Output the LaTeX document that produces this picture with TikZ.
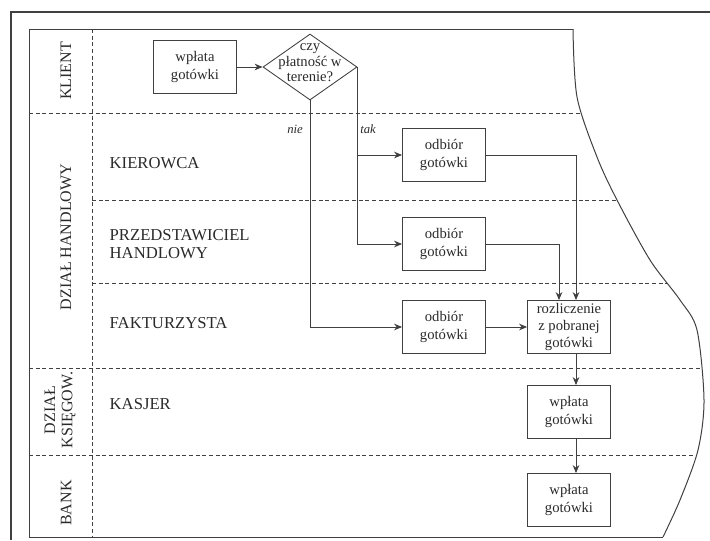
\documentclass[tikz,border=0pt]{standalone}
\usepackage{fontspec}
\setmainfont{Liberation Serif}
\usetikzlibrary{shapes.geometric,calc,arrows.meta}
\definecolor{linegray}{HTML}{404040}
\definecolor{textgray}{HTML}{2A2A2A}

\begin{document}
\begin{tikzpicture}[x=0.75pt,y=-0.75pt, every node/.style={font=\fontsize{11}{13.5}\selectfont, text=textgray},
    box/.style={draw=linegray, line width=0.65pt, rectangle, minimum width=62.25pt, minimum height=39.75pt, align=center, inner sep=1pt},
    decision/.style={draw=linegray, line width=0.65pt, diamond, minimum width=70.5pt, minimum height=49.5pt, inner sep=0pt},
    role/.style={anchor=west, align=left, font=\fontsize{12.5}{13}\selectfont},
    dept/.style={rotate=90, align=center, font=\fontsize{12}{13}\selectfont},
    branch/.style={font=\itshape\fontsize{9.5}{11}\selectfont},
    flow/.style={-{Stealth[length=6pt,width=5pt]}, linegray, line width=0.65pt},
    lane/.style={linegray, dash pattern=on 3pt off 2pt, line width=0.55pt}]
    \useasboundingbox (0,0) rectangle (710,540);
    \draw[linegray, line width=0.8pt] (710,12) -- (11,12) -- (11,540);
    \draw[linegray, line width=0.75pt] (573,29) -- (29,29) -- (29,537) -- (663,537);
    \draw[linegray, line width=0.75pt] plot[smooth, tension=0.5] coordinates {(573,29) (577,97) (597,157) (617,200) (650,260) (680,300) (697,330) (704,400) (698,450) (680,500) (663,537)};
    \draw[lane] (92,29) -- (92,537);
    \draw[lane] (29,113) -- (582,113);
    \draw[lane] (92,200) -- (617,200);
    \draw[lane] (92,283) -- (668,283);
    \draw[lane] (29,368) -- (702,368);
    \draw[lane] (29,455) -- (696,455);
    \node[dept] (klient) at (66,71) {KLIENT};
    \node[dept] (handel) at (66,237) {DZIAŁ HANDLOWY};
    \node[dept] (ksieg) at (60,410) {DZIAŁ\\KSIĘGOW.};
    \node[dept] (bank) at (66,503) {BANK};
    \node[role] (kierowca) at (105,163) {KIEROWCA};
    \node[role] (przedst) at (105,244) {PRZEDSTAWICIEL\\HANDLOWY};
    \node[role] (faktur) at (105,323) {FAKTURZYSTA};
    \node[role] (kasjer) at (105,404) {KASJER};
    \node[box] (w1) at (195,67) {wpłata\\gotówki};
    \node[decision, label={[align=center, yshift=3pt, font=\fontsize{11}{11.6}\selectfont]center:czy\\płatność w\\terenie?}] (czy) at (310,67) {};
    \node[box] (o1) at (444,155) {odbiór\\gotówki};
    \node[box] (o2) at (444,244) {odbiór\\gotówki};
    \node[box] (o3) at (444,327) {odbiór\\gotówki};
    \node[box, font=\fontsize{11}{13}\selectfont] (rozl) at (569,327) {rozliczenie\\z pobranej\\gotówki};
    \node[box] (kas) at (569,412) {wpłata\\gotówki};
    \node[box] (bnk) at (569,500) {wpłata\\gotówki};
    \node[branch] (nie) at (295,129) {nie};
    \node[branch] (tak) at (368,129) {tak};
    \coordinate (rin1) at ($(rozl.north)+(7,0)$);
    \coordinate (rin2) at ($(rozl.north)+(-10,0)$);
    \draw[flow] (w1) -- (czy);
    \draw[flow] (czy.south) |- (o3.west);
    \draw[flow] (czy.east) |- (o2.west);
    \draw[flow] (czy.east |- o1.west) -- (o1.west);
    \draw[flow] (o1.east) -| (rin1);
    \draw[flow] (o2.east) -| (rin2);
    \draw[flow] (o3) -- (rozl);
    \draw[flow] ($(rozl.south)+(7,0)$) -- ($(kas.north)+(7,0)$);
    \draw[flow] ($(kas.south)+(7,0)$) -- ($(bnk.north)+(7,0)$);
\end{tikzpicture}
\end{document}
